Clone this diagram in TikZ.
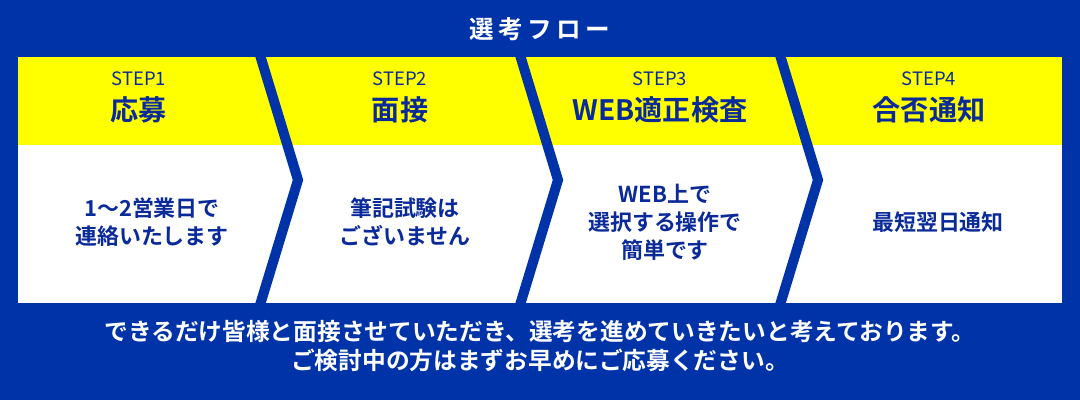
\documentclass[tikz,border=0pt]{standalone}
\usepackage{fontspec}
\setmainfont{Noto Sans CJK JP Bold}
\newfontfamily\jplight{Noto Sans CJK JP}
\newfontfamily\jpwide[LetterSpace=18]{Noto Sans CJK JP Bold}
\definecolor{flowblue}{HTML}{0033A8}
\definecolor{textblue}{HTML}{0A2A9A}
\definecolor{stepyellow}{HTML}{FFFF00}
\tikzset{
  steplabel/.style={text=textblue,font=\jplight\fontsize{10.5}{12}\selectfont},
  steptitle/.style={text=textblue,font=\fontsize{16}{18}\selectfont},
  stepbody/.style={text=textblue,font=\fontsize{12.5}{16}\selectfont,align=center},
  chevron/.style={draw=flowblue,line width=5.7pt,line join=miter},
}
\begin{document}
\begin{tikzpicture}[x=0.02cm,y=-0.02cm]
\fill[flowblue] (0,0) rectangle (1080,400);
\useasboundingbox (0,0) rectangle (1080,400);
% panel
\fill[stepyellow] (18,57) rectangle (1062,145);
\fill[white] (18,145) rectangle (1062,303);
\node[text=white,font=\jpwide\fontsize{14}{16}\selectfont] (title) at (540,29) {選考フロー};
% chevrons
\foreach \x in {260,520,780}
  \draw[chevron] (\x,55) -- (\x+38,180) -- (\x,305);
% steps
\node[steplabel] (s1) at (139,79) {STEP1};
\node[steptitle] (t1) at (139,110) {応募};
\node[stepbody] (b1) at (152,222) {1～2営業日で\\連絡いたします};
\node[steplabel] (s2) at (400,79) {STEP2};
\node[steptitle] (t2) at (400,110) {面接};
\node[stepbody] (b2) at (405,222) {筆記試験は\\ございません};
\node[steplabel] (s3) at (660,79) {STEP3};
\node[steptitle] (t3) at (660,110) {WEB適正検査};
\node[stepbody] (b3) at (665,222) {WEB上で\\選択する操作で\\簡単です};
\node[steplabel] (s4) at (929,79) {STEP4};
\node[steptitle] (t4) at (929,110) {合否通知};
\node[stepbody] (b4) at (938,222) {最短翌日通知};
% note
\node[text=white,font=\fontsize{13.5}{17}\selectfont,align=center] (note) at (540,346)
  {できるだけ皆様と面接させていただき、選考を進めていきたいと考えております。\\ご検討中の方はまずお早めにご応募ください。};
\end{tikzpicture}
\end{document}
